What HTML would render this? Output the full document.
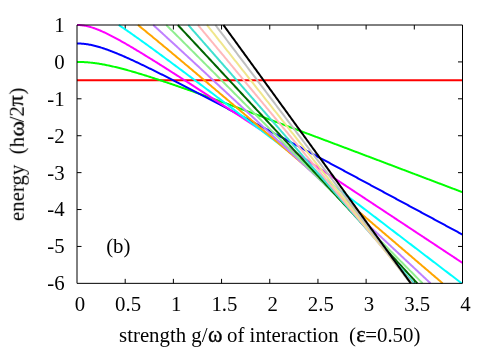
<!DOCTYPE html>
<html><head><meta charset="utf-8"><title>plot</title>
<style>
html,body{margin:0;padding:0;background:#fff;}
body{width:500px;height:350px;overflow:hidden;}
svg{display:block;}
text.gk{stroke:#000;stroke-width:0.3px;}
text{font-family:"Liberation Serif",serif;font-size:20.83px;fill:#000;}
</style></head><body>
<svg width="500" height="350" viewBox="0 0 500 350">
<rect width="500" height="350" fill="#fff"/>
<path d="M125.19 283.35 v-4.5 M125.19 25.00 v4.5 M173.38 283.35 v-4.5 M173.38 25.00 v4.5 M221.56 283.35 v-4.5 M221.56 25.00 v4.5 M269.75 283.35 v-4.5 M269.75 25.00 v4.5 M317.94 283.35 v-4.5 M317.94 25.00 v4.5 M366.12 283.35 v-4.5 M366.12 25.00 v4.5 M414.31 283.35 v-4.5 M414.31 25.00 v4.5 M77.00 61.91 h4.5 M462.50 61.91 h-4.5 M77.00 98.81 h4.5 M462.50 98.81 h-4.5 M77.00 135.72 h4.5 M462.50 135.72 h-4.5 M77.00 172.63 h4.5 M462.50 172.63 h-4.5 M77.00 209.54 h4.5 M462.50 209.54 h-4.5 M77.00 246.44 h4.5 M462.50 246.44 h-4.5" fill="none" stroke="#000" stroke-width="1"/>
<g fill="none" stroke-width="2.00" stroke-linejoin="round">
<path d="M77.00 80.36 L77.96 80.36 L78.93 80.36 L79.89 80.36 L80.86 80.36 L81.82 80.36 L82.78 80.36 L83.75 80.36 L84.71 80.36 L85.67 80.36 L86.64 80.36 L87.60 80.36 L88.56 80.36 L89.53 80.36 L90.49 80.36 L91.46 80.36 L92.42 80.36 L93.38 80.36 L94.35 80.36 L95.31 80.36 L96.28 80.36 L97.24 80.36 L98.20 80.36 L99.17 80.36 L100.13 80.36 L101.09 80.36 L102.06 80.36 L103.02 80.36 L103.98 80.36 L104.95 80.36 L105.91 80.36 L106.88 80.36 L107.84 80.36 L108.80 80.36 L109.77 80.36 L110.73 80.36 L111.69 80.36 L112.66 80.36 L113.62 80.36 L114.59 80.36 L115.55 80.36 L116.51 80.36 L117.48 80.36 L118.44 80.36 L119.41 80.36 L120.37 80.36 L121.33 80.36 L122.30 80.36 L123.26 80.36 L124.22 80.36 L125.19 80.36 L126.15 80.36 L127.12 80.36 L128.08 80.36 L129.04 80.36 L130.01 80.36 L130.97 80.36 L131.93 80.36 L132.90 80.36 L133.86 80.36 L134.82 80.36 L135.79 80.36 L136.75 80.36 L137.72 80.36 L138.68 80.36 L139.64 80.36 L140.61 80.36 L141.57 80.36 L142.54 80.36 L143.50 80.36 L144.46 80.36 L145.43 80.36 L146.39 80.36 L147.35 80.36 L148.32 80.36 L149.28 80.36 L150.25 80.36 L151.21 80.36 L152.17 80.36 L153.14 80.36 L154.10 80.36 L155.06 80.36 L156.03 80.36 L156.99 80.36 L157.95 80.36 L158.92 80.36 L159.88 80.36 L160.85 80.36 L161.81 80.36 L162.77 80.36 L163.74 80.36 L164.70 80.36 L165.67 80.36 L166.63 80.36 L167.59 80.36 L168.56 80.36 L169.52 80.36 L170.48 80.36 L171.45 80.36 L172.41 80.36 L173.38 80.36 L174.34 80.36 L175.30 80.36 L176.27 80.36 L177.23 80.36 L178.19 80.36 L179.16 80.36 L180.12 80.36 L181.09 80.36 L182.05 80.36 L183.01 80.36 L183.98 80.36 L184.94 80.36 L185.90 80.36 L186.87 80.36 L187.83 80.36 L188.79 80.36 L189.76 80.36 L190.72 80.36 L191.69 80.36 L192.65 80.36 L193.61 80.36 L194.58 80.36 L195.54 80.36 L196.50 80.36 L197.47 80.36 L198.43 80.36 L199.40 80.36 L200.36 80.36 L201.32 80.36 L202.29 80.36 L203.25 80.36 L204.22 80.36 L205.18 80.36 L206.14 80.36 L207.11 80.36 L208.07 80.36 L209.03 80.36 L210.00 80.36 L210.96 80.36 L211.92 80.36 L212.89 80.36 L213.85 80.36 L214.82 80.36 L215.78 80.36 L216.74 80.36 L217.71 80.36 L218.67 80.36 L219.63 80.36 L220.60 80.36 L221.56 80.36 L222.53 80.36 L223.49 80.36 L224.45 80.36 L225.42 80.36 L226.38 80.36 L227.34 80.36 L228.31 80.36 L229.27 80.36 L230.24 80.36 L231.20 80.36 L232.16 80.36 L233.13 80.36 L234.09 80.36 L235.05 80.36 L236.02 80.36 L236.98 80.36 L237.95 80.36 L238.91 80.36 L239.87 80.36 L240.84 80.36 L241.80 80.36 L242.76 80.36 L243.73 80.36 L244.69 80.36 L245.66 80.36 L246.62 80.36 L247.58 80.36 L248.55 80.36 L249.51 80.36 L250.47 80.36 L251.44 80.36 L252.40 80.36 L253.37 80.36 L254.33 80.36 L255.29 80.36 L256.26 80.36 L257.22 80.36 L258.19 80.36 L259.15 80.36 L260.11 80.36 L261.08 80.36 L262.04 80.36 L263.00 80.36 L263.97 80.36 L264.93 80.36 L265.89 80.36 L266.86 80.36 L267.82 80.36 L268.79 80.36 L269.75 80.36 L270.71 80.36 L271.68 80.36 L272.64 80.36 L273.61 80.36 L274.57 80.36 L275.53 80.36 L276.50 80.36 L277.46 80.36 L278.42 80.36 L279.39 80.36 L280.35 80.36 L281.31 80.36 L282.28 80.36 L283.24 80.36 L284.21 80.36 L285.17 80.36 L286.13 80.36 L287.10 80.36 L288.06 80.36 L289.02 80.36 L289.99 80.36 L290.95 80.36 L291.92 80.36 L292.88 80.36 L293.84 80.36 L294.81 80.36 L295.77 80.36 L296.74 80.36 L297.70 80.36 L298.66 80.36 L299.63 80.36 L300.59 80.36 L301.55 80.36 L302.52 80.36 L303.48 80.36 L304.44 80.36 L305.41 80.36 L306.37 80.36 L307.34 80.36 L308.30 80.36 L309.26 80.36 L310.23 80.36 L311.19 80.36 L312.15 80.36 L313.12 80.36 L314.08 80.36 L315.05 80.36 L316.01 80.36 L316.97 80.36 L317.94 80.36 L318.90 80.36 L319.87 80.36 L320.83 80.36 L321.79 80.36 L322.76 80.36 L323.72 80.36 L324.68 80.36 L325.65 80.36 L326.61 80.36 L327.58 80.36 L328.54 80.36 L329.50 80.36 L330.47 80.36 L331.43 80.36 L332.39 80.36 L333.36 80.36 L334.32 80.36 L335.29 80.36 L336.25 80.36 L337.21 80.36 L338.18 80.36 L339.14 80.36 L340.10 80.36 L341.07 80.36 L342.03 80.36 L343.00 80.36 L343.96 80.36 L344.92 80.36 L345.89 80.36 L346.85 80.36 L347.81 80.36 L348.78 80.36 L349.74 80.36 L350.70 80.36 L351.67 80.36 L352.63 80.36 L353.60 80.36 L354.56 80.36 L355.52 80.36 L356.49 80.36 L357.45 80.36 L358.42 80.36 L359.38 80.36 L360.34 80.36 L361.31 80.36 L362.27 80.36 L363.23 80.36 L364.20 80.36 L365.16 80.36 L366.12 80.36 L367.09 80.36 L368.05 80.36 L369.02 80.36 L369.98 80.36 L370.94 80.36 L371.91 80.36 L372.87 80.36 L373.83 80.36 L374.80 80.36 L375.76 80.36 L376.73 80.36 L377.69 80.36 L378.65 80.36 L379.62 80.36 L380.58 80.36 L381.55 80.36 L382.51 80.36 L383.47 80.36 L384.44 80.36 L385.40 80.36 L386.36 80.36 L387.33 80.36 L388.29 80.36 L389.25 80.36 L390.22 80.36 L391.18 80.36 L392.15 80.36 L393.11 80.36 L394.07 80.36 L395.04 80.36 L396.00 80.36 L396.96 80.36 L397.93 80.36 L398.89 80.36 L399.86 80.36 L400.82 80.36 L401.78 80.36 L402.75 80.36 L403.71 80.36 L404.68 80.36 L405.64 80.36 L406.60 80.36 L407.57 80.36 L408.53 80.36 L409.49 80.36 L410.46 80.36 L411.42 80.36 L412.38 80.36 L413.35 80.36 L414.31 80.36 L415.28 80.36 L416.24 80.36 L417.20 80.36 L418.17 80.36 L419.13 80.36 L420.10 80.36 L421.06 80.36 L422.02 80.36 L422.99 80.36 L423.95 80.36 L424.91 80.36 L425.88 80.36 L426.84 80.36 L427.81 80.36 L428.77 80.36 L429.73 80.36 L430.70 80.36 L431.66 80.36 L432.62 80.36 L433.59 80.36 L434.55 80.36 L435.52 80.36 L436.48 80.36 L437.44 80.36 L438.41 80.36 L439.37 80.36 L440.33 80.36 L441.30 80.36 L442.26 80.36 L443.22 80.36 L444.19 80.36 L445.15 80.36 L446.12 80.36 L447.08 80.36 L448.04 80.36 L449.01 80.36 L449.97 80.36 L450.94 80.36 L451.90 80.36 L452.86 80.36 L453.83 80.36 L454.79 80.36 L455.75 80.36 L456.72 80.36 L457.68 80.36 L458.64 80.36 L459.61 80.36 L460.57 80.36 L461.54 80.36 L462.50 80.36" stroke="#ff0000"/>
<path d="M77.00 61.91 L77.96 61.91 L78.93 61.92 L79.89 61.94 L80.86 61.97 L81.82 62.00 L82.78 62.04 L83.75 62.09 L84.71 62.14 L85.67 62.20 L86.64 62.27 L87.60 62.35 L88.56 62.43 L89.53 62.52 L90.49 62.62 L91.46 62.72 L92.42 62.83 L93.38 62.94 L94.35 63.07 L95.31 63.19 L96.28 63.33 L97.24 63.47 L98.20 63.61 L99.17 63.77 L100.13 63.92 L101.09 64.09 L102.06 64.25 L103.02 64.43 L103.98 64.60 L104.95 64.79 L105.91 64.97 L106.88 65.17 L107.84 65.36 L108.80 65.56 L109.77 65.77 L110.73 65.98 L111.69 66.19 L112.66 66.41 L113.62 66.63 L114.59 66.86 L115.55 67.09 L116.51 67.32 L117.48 67.55 L118.44 67.79 L119.41 68.03 L120.37 68.28 L121.33 68.53 L122.30 68.78 L123.26 69.03 L124.22 69.29 L125.19 69.55 L126.15 69.81 L127.12 70.08 L128.08 70.35 L129.04 70.61 L130.01 70.89 L130.97 71.16 L131.93 71.44 L132.90 71.72 L133.86 72.00 L134.82 72.28 L135.79 72.56 L136.75 72.85 L137.72 73.14 L138.68 73.43 L139.64 73.72 L140.61 74.01 L141.57 74.31 L142.54 74.60 L143.50 74.90 L144.46 75.20 L145.43 75.50 L146.39 75.81 L147.35 76.11 L148.32 76.41 L149.28 76.72 L150.25 77.03 L151.21 77.34 L152.17 77.65 L153.14 77.96 L154.10 78.27 L155.06 78.59 L156.03 78.90 L156.99 79.22 L157.95 79.53 L158.92 79.85 L159.88 80.17 L160.85 80.49 L161.81 80.81 L162.77 81.13 L163.74 81.45 L164.70 81.77 L165.67 82.10 L166.63 82.42 L167.59 82.75 L168.56 83.08 L169.52 83.40 L170.48 83.73 L171.45 84.06 L172.41 84.39 L173.38 84.72 L174.34 85.05 L175.30 85.38 L176.27 85.71 L177.23 86.04 L178.19 86.38 L179.16 86.71 L180.12 87.04 L181.09 87.38 L182.05 87.71 L183.01 88.05 L183.98 88.38 L184.94 88.72 L185.90 89.06 L186.87 89.40 L187.83 89.73 L188.79 90.07 L189.76 90.41 L190.72 90.75 L191.69 91.09 L192.65 91.43 L193.61 91.77 L194.58 92.12 L195.54 92.46 L196.50 92.80 L197.47 93.14 L198.43 93.48 L199.40 93.83 L200.36 94.17 L201.32 94.51 L202.29 94.86 L203.25 95.20 L204.22 95.55 L205.18 95.89 L206.14 96.24 L207.11 96.59 L208.07 96.93 L209.03 97.28 L210.00 97.63 L210.96 97.97 L211.92 98.32 L212.89 98.67 L213.85 99.02 L214.82 99.36 L215.78 99.71 L216.74 100.06 L217.71 100.41 L218.67 100.76 L219.63 101.11 L220.60 101.46 L221.56 101.81 L222.53 102.16 L223.49 102.51 L224.45 102.86 L225.42 103.21 L226.38 103.56 L227.34 103.91 L228.31 104.27 L229.27 104.62 L230.24 104.97 L231.20 105.32 L232.16 105.67 L233.13 106.03 L234.09 106.38 L235.05 106.73 L236.02 107.08 L236.98 107.44 L237.95 107.79 L238.91 108.15 L239.87 108.50 L240.84 108.85 L241.80 109.21 L242.76 109.56 L243.73 109.92 L244.69 110.27 L245.66 110.63 L246.62 110.98 L247.58 111.34 L248.55 111.69 L249.51 112.05 L250.47 112.40 L251.44 112.76 L252.40 113.11 L253.37 113.47 L254.33 113.83 L255.29 114.18 L256.26 114.54 L257.22 114.89 L258.19 115.25 L259.15 115.61 L260.11 115.96 L261.08 116.32 L262.04 116.68 L263.00 117.04 L263.97 117.39 L264.93 117.75 L265.89 118.11 L266.86 118.47 L267.82 118.82 L268.79 119.18 L269.75 119.54 L270.71 119.90 L271.68 120.26 L272.64 120.61 L273.61 120.97 L274.57 121.33 L275.53 121.69 L276.50 122.05 L277.46 122.41 L278.42 122.77 L279.39 123.13 L280.35 123.48 L281.31 123.84 L282.28 124.20 L283.24 124.56 L284.21 124.92 L285.17 125.28 L286.13 125.64 L287.10 126.00 L288.06 126.36 L289.02 126.72 L289.99 127.08 L290.95 127.44 L291.92 127.80 L292.88 128.16 L293.84 128.52 L294.81 128.88 L295.77 129.24 L296.74 129.60 L297.70 129.96 L298.66 130.32 L299.63 130.68 L300.59 131.04 L301.55 131.40 L302.52 131.77 L303.48 132.13 L304.44 132.49 L305.41 132.85 L306.37 133.21 L307.34 133.57 L308.30 133.93 L309.26 134.29 L310.23 134.66 L311.19 135.02 L312.15 135.38 L313.12 135.74 L314.08 136.10 L315.05 136.46 L316.01 136.82 L316.97 137.19 L317.94 137.55 L318.90 137.91 L319.87 138.27 L320.83 138.63 L321.79 139.00 L322.76 139.36 L323.72 139.72 L324.68 140.08 L325.65 140.45 L326.61 140.81 L327.58 141.17 L328.54 141.53 L329.50 141.90 L330.47 142.26 L331.43 142.62 L332.39 142.98 L333.36 143.35 L334.32 143.71 L335.29 144.07 L336.25 144.43 L337.21 144.80 L338.18 145.16 L339.14 145.52 L340.10 145.89 L341.07 146.25 L342.03 146.61 L343.00 146.98 L343.96 147.34 L344.92 147.70 L345.89 148.06 L346.85 148.43 L347.81 148.79 L348.78 149.16 L349.74 149.52 L350.70 149.88 L351.67 150.25 L352.63 150.61 L353.60 150.97 L354.56 151.34 L355.52 151.70 L356.49 152.06 L357.45 152.43 L358.42 152.79 L359.38 153.15 L360.34 153.52 L361.31 153.88 L362.27 154.25 L363.23 154.61 L364.20 154.97 L365.16 155.34 L366.12 155.70 L367.09 156.07 L368.05 156.43 L369.02 156.79 L369.98 157.16 L370.94 157.52 L371.91 157.89 L372.87 158.25 L373.83 158.62 L374.80 158.98 L375.76 159.34 L376.73 159.71 L377.69 160.07 L378.65 160.44 L379.62 160.80 L380.58 161.17 L381.55 161.53 L382.51 161.90 L383.47 162.26 L384.44 162.62 L385.40 162.99 L386.36 163.35 L387.33 163.72 L388.29 164.08 L389.25 164.45 L390.22 164.81 L391.18 165.18 L392.15 165.54 L393.11 165.91 L394.07 166.27 L395.04 166.64 L396.00 167.00 L396.96 167.37 L397.93 167.73 L398.89 168.10 L399.86 168.46 L400.82 168.83 L401.78 169.19 L402.75 169.56 L403.71 169.92 L404.68 170.29 L405.64 170.65 L406.60 171.02 L407.57 171.38 L408.53 171.75 L409.49 172.11 L410.46 172.48 L411.42 172.84 L412.38 173.21 L413.35 173.57 L414.31 173.94 L415.28 174.31 L416.24 174.67 L417.20 175.04 L418.17 175.40 L419.13 175.77 L420.10 176.13 L421.06 176.50 L422.02 176.86 L422.99 177.23 L423.95 177.59 L424.91 177.96 L425.88 178.33 L426.84 178.69 L427.81 179.06 L428.77 179.42 L429.73 179.79 L430.70 180.15 L431.66 180.52 L432.62 180.89 L433.59 181.25 L434.55 181.62 L435.52 181.98 L436.48 182.35 L437.44 182.71 L438.41 183.08 L439.37 183.45 L440.33 183.81 L441.30 184.18 L442.26 184.54 L443.22 184.91 L444.19 185.28 L445.15 185.64 L446.12 186.01 L447.08 186.37 L448.04 186.74 L449.01 187.11 L449.97 187.47 L450.94 187.84 L451.90 188.20 L452.86 188.57 L453.83 188.94 L454.79 189.30 L455.75 189.67 L456.72 190.03 L457.68 190.40 L458.64 190.77 L459.61 191.13 L460.57 191.50 L461.54 191.86 L462.50 192.23" stroke="#00ff00"/>
<path d="M77.00 43.45 L77.96 43.46 L78.93 43.48 L79.89 43.52 L80.86 43.57 L81.82 43.64 L82.78 43.72 L83.75 43.81 L84.71 43.92 L85.67 44.04 L86.64 44.18 L87.60 44.33 L88.56 44.49 L89.53 44.66 L90.49 44.85 L91.46 45.05 L92.42 45.26 L93.38 45.48 L94.35 45.71 L95.31 45.95 L96.28 46.20 L97.24 46.46 L98.20 46.73 L99.17 47.01 L100.13 47.30 L101.09 47.60 L102.06 47.91 L103.02 48.22 L103.98 48.54 L104.95 48.87 L105.91 49.20 L106.88 49.54 L107.84 49.89 L108.80 50.24 L109.77 50.60 L110.73 50.97 L111.69 51.34 L112.66 51.71 L113.62 52.09 L114.59 52.48 L115.55 52.86 L116.51 53.26 L117.48 53.65 L118.44 54.06 L119.41 54.46 L120.37 54.87 L121.33 55.28 L122.30 55.70 L123.26 56.12 L124.22 56.54 L125.19 56.96 L126.15 57.39 L127.12 57.82 L128.08 58.25 L129.04 58.69 L130.01 59.13 L130.97 59.57 L131.93 60.01 L132.90 60.45 L133.86 60.90 L134.82 61.35 L135.79 61.80 L136.75 62.25 L137.72 62.71 L138.68 63.16 L139.64 63.62 L140.61 64.08 L141.57 64.54 L142.54 65.00 L143.50 65.47 L144.46 65.93 L145.43 66.40 L146.39 66.87 L147.35 67.34 L148.32 67.81 L149.28 68.28 L150.25 68.75 L151.21 69.22 L152.17 69.70 L153.14 70.17 L154.10 70.65 L155.06 71.13 L156.03 71.61 L156.99 72.09 L157.95 72.57 L158.92 73.05 L159.88 73.53 L160.85 74.02 L161.81 74.50 L162.77 74.98 L163.74 75.47 L164.70 75.96 L165.67 76.44 L166.63 76.93 L167.59 77.42 L168.56 77.91 L169.52 78.40 L170.48 78.89 L171.45 79.38 L172.41 79.87 L173.38 80.36 L174.34 80.85 L175.30 81.35 L176.27 81.84 L177.23 82.33 L178.19 82.83 L179.16 83.32 L180.12 83.82 L181.09 84.31 L182.05 84.81 L183.01 85.31 L183.98 85.80 L184.94 86.30 L185.90 86.80 L186.87 87.30 L187.83 87.80 L188.79 88.30 L189.76 88.79 L190.72 89.29 L191.69 89.79 L192.65 90.30 L193.61 90.80 L194.58 91.30 L195.54 91.80 L196.50 92.30 L197.47 92.80 L198.43 93.31 L199.40 93.81 L200.36 94.31 L201.32 94.81 L202.29 95.32 L203.25 95.82 L204.22 96.33 L205.18 96.83 L206.14 97.33 L207.11 97.84 L208.07 98.34 L209.03 98.85 L210.00 99.35 L210.96 99.86 L211.92 100.37 L212.89 100.87 L213.85 101.38 L214.82 101.89 L215.78 102.39 L216.74 102.90 L217.71 103.41 L218.67 103.91 L219.63 104.42 L220.60 104.93 L221.56 105.44 L222.53 105.95 L223.49 106.45 L224.45 106.96 L225.42 107.47 L226.38 107.98 L227.34 108.49 L228.31 109.00 L229.27 109.51 L230.24 110.02 L231.20 110.53 L232.16 111.04 L233.13 111.55 L234.09 112.06 L235.05 112.57 L236.02 113.08 L236.98 113.59 L237.95 114.10 L238.91 114.61 L239.87 115.12 L240.84 115.63 L241.80 116.14 L242.76 116.65 L243.73 117.16 L244.69 117.67 L245.66 118.19 L246.62 118.70 L247.58 119.21 L248.55 119.72 L249.51 120.23 L250.47 120.75 L251.44 121.26 L252.40 121.77 L253.37 122.28 L254.33 122.79 L255.29 123.31 L256.26 123.82 L257.22 124.33 L258.19 124.85 L259.15 125.36 L260.11 125.87 L261.08 126.39 L262.04 126.90 L263.00 127.41 L263.97 127.93 L264.93 128.44 L265.89 128.95 L266.86 129.47 L267.82 129.98 L268.79 130.49 L269.75 131.01 L270.71 131.52 L271.68 132.04 L272.64 132.55 L273.61 133.06 L274.57 133.58 L275.53 134.09 L276.50 134.61 L277.46 135.12 L278.42 135.64 L279.39 136.15 L280.35 136.67 L281.31 137.18 L282.28 137.70 L283.24 138.21 L284.21 138.73 L285.17 139.24 L286.13 139.76 L287.10 140.27 L288.06 140.79 L289.02 141.30 L289.99 141.82 L290.95 142.33 L291.92 142.85 L292.88 143.36 L293.84 143.88 L294.81 144.39 L295.77 144.91 L296.74 145.43 L297.70 145.94 L298.66 146.46 L299.63 146.97 L300.59 147.49 L301.55 148.01 L302.52 148.52 L303.48 149.04 L304.44 149.55 L305.41 150.07 L306.37 150.59 L307.34 151.10 L308.30 151.62 L309.26 152.14 L310.23 152.65 L311.19 153.17 L312.15 153.68 L313.12 154.20 L314.08 154.72 L315.05 155.23 L316.01 155.75 L316.97 156.27 L317.94 156.78 L318.90 157.30 L319.87 157.82 L320.83 158.34 L321.79 158.85 L322.76 159.37 L323.72 159.89 L324.68 160.40 L325.65 160.92 L326.61 161.44 L327.58 161.95 L328.54 162.47 L329.50 162.99 L330.47 163.51 L331.43 164.02 L332.39 164.54 L333.36 165.06 L334.32 165.58 L335.29 166.09 L336.25 166.61 L337.21 167.13 L338.18 167.65 L339.14 168.16 L340.10 168.68 L341.07 169.20 L342.03 169.72 L343.00 170.23 L343.96 170.75 L344.92 171.27 L345.89 171.79 L346.85 172.31 L347.81 172.82 L348.78 173.34 L349.74 173.86 L350.70 174.38 L351.67 174.89 L352.63 175.41 L353.60 175.93 L354.56 176.45 L355.52 176.97 L356.49 177.49 L357.45 178.00 L358.42 178.52 L359.38 179.04 L360.34 179.56 L361.31 180.08 L362.27 180.59 L363.23 181.11 L364.20 181.63 L365.16 182.15 L366.12 182.67 L367.09 183.19 L368.05 183.70 L369.02 184.22 L369.98 184.74 L370.94 185.26 L371.91 185.78 L372.87 186.30 L373.83 186.81 L374.80 187.33 L375.76 187.85 L376.73 188.37 L377.69 188.89 L378.65 189.41 L379.62 189.93 L380.58 190.45 L381.55 190.96 L382.51 191.48 L383.47 192.00 L384.44 192.52 L385.40 193.04 L386.36 193.56 L387.33 194.08 L388.29 194.60 L389.25 195.11 L390.22 195.63 L391.18 196.15 L392.15 196.67 L393.11 197.19 L394.07 197.71 L395.04 198.23 L396.00 198.75 L396.96 199.27 L397.93 199.78 L398.89 200.30 L399.86 200.82 L400.82 201.34 L401.78 201.86 L402.75 202.38 L403.71 202.90 L404.68 203.42 L405.64 203.94 L406.60 204.46 L407.57 204.98 L408.53 205.50 L409.49 206.01 L410.46 206.53 L411.42 207.05 L412.38 207.57 L413.35 208.09 L414.31 208.61 L415.28 209.13 L416.24 209.65 L417.20 210.17 L418.17 210.69 L419.13 211.21 L420.10 211.73 L421.06 212.25 L422.02 212.77 L422.99 213.29 L423.95 213.80 L424.91 214.32 L425.88 214.84 L426.84 215.36 L427.81 215.88 L428.77 216.40 L429.73 216.92 L430.70 217.44 L431.66 217.96 L432.62 218.48 L433.59 219.00 L434.55 219.52 L435.52 220.04 L436.48 220.56 L437.44 221.08 L438.41 221.60 L439.37 222.12 L440.33 222.64 L441.30 223.16 L442.26 223.68 L443.22 224.20 L444.19 224.72 L445.15 225.24 L446.12 225.76 L447.08 226.27 L448.04 226.79 L449.01 227.31 L449.97 227.83 L450.94 228.35 L451.90 228.87 L452.86 229.39 L453.83 229.91 L454.79 230.43 L455.75 230.95 L456.72 231.47 L457.68 231.99 L458.64 232.51 L459.61 233.03 L460.57 233.55 L461.54 234.07 L462.50 234.59" stroke="#0000ff"/>
<path d="M77.00 25.00 L77.96 25.01 L78.93 25.04 L79.89 25.10 L80.86 25.18 L81.82 25.27 L82.78 25.39 L83.75 25.53 L84.71 25.70 L85.67 25.88 L86.64 26.08 L87.60 26.29 L88.56 26.53 L89.53 26.78 L90.49 27.06 L91.46 27.34 L92.42 27.64 L93.38 27.96 L94.35 28.29 L95.31 28.64 L96.28 29.00 L97.24 29.37 L98.20 29.75 L99.17 30.14 L100.13 30.54 L101.09 30.96 L102.06 31.38 L103.02 31.81 L103.98 32.25 L104.95 32.70 L105.91 33.16 L106.88 33.62 L107.84 34.10 L108.80 34.57 L109.77 35.06 L110.73 35.55 L111.69 36.04 L112.66 36.55 L113.62 37.05 L114.59 37.56 L115.55 38.08 L116.51 38.60 L117.48 39.13 L118.44 39.65 L119.41 40.19 L120.37 40.72 L121.33 41.26 L122.30 41.81 L123.26 42.35 L124.22 42.90 L125.19 43.45 L126.15 44.01 L127.12 44.57 L128.08 45.13 L129.04 45.69 L130.01 46.25 L130.97 46.82 L131.93 47.39 L132.90 47.96 L133.86 48.53 L134.82 49.11 L135.79 49.69 L136.75 50.27 L137.72 50.85 L138.68 51.43 L139.64 52.01 L140.61 52.60 L141.57 53.18 L142.54 53.77 L143.50 54.36 L144.46 54.95 L145.43 55.54 L146.39 56.13 L147.35 56.73 L148.32 57.32 L149.28 57.92 L150.25 58.52 L151.21 59.11 L152.17 59.71 L153.14 60.31 L154.10 60.91 L155.06 61.52 L156.03 62.12 L156.99 62.72 L157.95 63.33 L158.92 63.93 L159.88 64.54 L160.85 65.14 L161.81 65.75 L162.77 66.36 L163.74 66.97 L164.70 67.58 L165.67 68.18 L166.63 68.79 L167.59 69.41 L168.56 70.02 L169.52 70.63 L170.48 71.24 L171.45 71.85 L172.41 72.47 L173.38 73.08 L174.34 73.70 L175.30 74.31 L176.27 74.93 L177.23 75.54 L178.19 76.16 L179.16 76.77 L180.12 77.39 L181.09 78.01 L182.05 78.63 L183.01 79.25 L183.98 79.86 L184.94 80.48 L185.90 81.10 L186.87 81.72 L187.83 82.34 L188.79 82.96 L189.76 83.58 L190.72 84.20 L191.69 84.82 L192.65 85.44 L193.61 86.07 L194.58 86.69 L195.54 87.31 L196.50 87.93 L197.47 88.56 L198.43 89.18 L199.40 89.80 L200.36 90.43 L201.32 91.05 L202.29 91.67 L203.25 92.30 L204.22 92.92 L205.18 93.55 L206.14 94.17 L207.11 94.80 L208.07 95.42 L209.03 96.05 L210.00 96.67 L210.96 97.30 L211.92 97.92 L212.89 98.55 L213.85 99.18 L214.82 99.80 L215.78 100.43 L216.74 101.06 L217.71 101.68 L218.67 102.31 L219.63 102.94 L220.60 103.57 L221.56 104.19 L222.53 104.82 L223.49 105.45 L224.45 106.08 L225.42 106.71 L226.38 107.33 L227.34 107.96 L228.31 108.59 L229.27 109.22 L230.24 109.85 L231.20 110.48 L232.16 111.11 L233.13 111.74 L234.09 112.37 L235.05 113.00 L236.02 113.62 L236.98 114.25 L237.95 114.88 L238.91 115.51 L239.87 116.14 L240.84 116.77 L241.80 117.40 L242.76 118.04 L243.73 118.67 L244.69 119.30 L245.66 119.93 L246.62 120.56 L247.58 121.19 L248.55 121.82 L249.51 122.45 L250.47 123.08 L251.44 123.71 L252.40 124.34 L253.37 124.98 L254.33 125.61 L255.29 126.24 L256.26 126.87 L257.22 127.50 L258.19 128.13 L259.15 128.77 L260.11 129.40 L261.08 130.03 L262.04 130.66 L263.00 131.29 L263.97 131.93 L264.93 132.56 L265.89 133.19 L266.86 133.82 L267.82 134.46 L268.79 135.09 L269.75 135.72 L270.71 136.35 L271.68 136.99 L272.64 137.62 L273.61 138.25 L274.57 138.89 L275.53 139.52 L276.50 140.15 L277.46 140.78 L278.42 141.42 L279.39 142.05 L280.35 142.68 L281.31 143.32 L282.28 143.95 L283.24 144.59 L284.21 145.22 L285.17 145.85 L286.13 146.49 L287.10 147.12 L288.06 147.75 L289.02 148.39 L289.99 149.02 L290.95 149.65 L291.92 150.29 L292.88 150.92 L293.84 151.56 L294.81 152.19 L295.77 152.82 L296.74 153.46 L297.70 154.09 L298.66 154.73 L299.63 155.36 L300.59 156.00 L301.55 156.63 L302.52 157.27 L303.48 157.90 L304.44 158.53 L305.41 159.17 L306.37 159.80 L307.34 160.44 L308.30 161.07 L309.26 161.71 L310.23 162.34 L311.19 162.98 L312.15 163.61 L313.12 164.25 L314.08 164.88 L315.05 165.52 L316.01 166.15 L316.97 166.79 L317.94 167.42 L318.90 168.06 L319.87 168.69 L320.83 169.33 L321.79 169.96 L322.76 170.60 L323.72 171.23 L324.68 171.87 L325.65 172.50 L326.61 173.14 L327.58 173.77 L328.54 174.41 L329.50 175.04 L330.47 175.68 L331.43 176.31 L332.39 176.95 L333.36 177.59 L334.32 178.22 L335.29 178.86 L336.25 179.49 L337.21 180.13 L338.18 180.76 L339.14 181.40 L340.10 182.03 L341.07 182.67 L342.03 183.31 L343.00 183.94 L343.96 184.58 L344.92 185.21 L345.89 185.85 L346.85 186.49 L347.81 187.12 L348.78 187.76 L349.74 188.39 L350.70 189.03 L351.67 189.67 L352.63 190.30 L353.60 190.94 L354.56 191.57 L355.52 192.21 L356.49 192.85 L357.45 193.48 L358.42 194.12 L359.38 194.75 L360.34 195.39 L361.31 196.03 L362.27 196.66 L363.23 197.30 L364.20 197.93 L365.16 198.57 L366.12 199.21 L367.09 199.84 L368.05 200.48 L369.02 201.12 L369.98 201.75 L370.94 202.39 L371.91 203.03 L372.87 203.66 L373.83 204.30 L374.80 204.93 L375.76 205.57 L376.73 206.21 L377.69 206.84 L378.65 207.48 L379.62 208.12 L380.58 208.75 L381.55 209.39 L382.51 210.03 L383.47 210.66 L384.44 211.30 L385.40 211.94 L386.36 212.57 L387.33 213.21 L388.29 213.85 L389.25 214.48 L390.22 215.12 L391.18 215.76 L392.15 216.39 L393.11 217.03 L394.07 217.67 L395.04 218.30 L396.00 218.94 L396.96 219.58 L397.93 220.22 L398.89 220.85 L399.86 221.49 L400.82 222.13 L401.78 222.76 L402.75 223.40 L403.71 224.04 L404.68 224.67 L405.64 225.31 L406.60 225.95 L407.57 226.58 L408.53 227.22 L409.49 227.86 L410.46 228.50 L411.42 229.13 L412.38 229.77 L413.35 230.41 L414.31 231.04 L415.28 231.68 L416.24 232.32 L417.20 232.96 L418.17 233.59 L419.13 234.23 L420.10 234.87 L421.06 235.50 L422.02 236.14 L422.99 236.78 L423.95 237.42 L424.91 238.05 L425.88 238.69 L426.84 239.33 L427.81 239.96 L428.77 240.60 L429.73 241.24 L430.70 241.88 L431.66 242.51 L432.62 243.15 L433.59 243.79 L434.55 244.43 L435.52 245.06 L436.48 245.70 L437.44 246.34 L438.41 246.97 L439.37 247.61 L440.33 248.25 L441.30 248.89 L442.26 249.52 L443.22 250.16 L444.19 250.80 L445.15 251.44 L446.12 252.07 L447.08 252.71 L448.04 253.35 L449.01 253.99 L449.97 254.62 L450.94 255.26 L451.90 255.90 L452.86 256.54 L453.83 257.17 L454.79 257.81 L455.75 258.45 L456.72 259.09 L457.68 259.72 L458.64 260.36 L459.61 261.00 L460.57 261.64 L461.54 262.27 L462.50 262.91" stroke="#ff00ff"/>
<path d="M118.73 25.00 L119.41 25.45 L120.37 26.09 L121.33 26.74 L122.30 27.39 L123.26 28.04 L124.22 28.70 L125.19 29.36 L126.15 30.02 L127.12 30.68 L128.08 31.35 L129.04 32.02 L130.01 32.69 L130.97 33.36 L131.93 34.04 L132.90 34.71 L133.86 35.39 L134.82 36.07 L135.79 36.75 L136.75 37.44 L137.72 38.12 L138.68 38.81 L139.64 39.50 L140.61 40.19 L141.57 40.88 L142.54 41.57 L143.50 42.26 L144.46 42.96 L145.43 43.65 L146.39 44.35 L147.35 45.05 L148.32 45.75 L149.28 46.45 L150.25 47.15 L151.21 47.85 L152.17 48.55 L153.14 49.26 L154.10 49.96 L155.06 50.67 L156.03 51.37 L156.99 52.08 L157.95 52.78 L158.92 53.49 L159.88 54.20 L160.85 54.91 L161.81 55.62 L162.77 56.33 L163.74 57.04 L164.70 57.75 L165.67 58.46 L166.63 59.18 L167.59 59.89 L168.56 60.60 L169.52 61.32 L170.48 62.03 L171.45 62.75 L172.41 63.46 L173.38 64.18 L174.34 64.90 L175.30 65.61 L176.27 66.33 L177.23 67.05 L178.19 67.76 L179.16 68.48 L180.12 69.20 L181.09 69.92 L182.05 70.64 L183.01 71.36 L183.98 72.08 L184.94 72.80 L185.90 73.52 L186.87 74.24 L187.83 74.96 L188.79 75.68 L189.76 76.41 L190.72 77.13 L191.69 77.85 L192.65 78.57 L193.61 79.29 L194.58 80.02 L195.54 80.74 L196.50 81.46 L197.47 82.19 L198.43 82.91 L199.40 83.64 L200.36 84.36 L201.32 85.08 L202.29 85.81 L203.25 86.53 L204.22 87.26 L205.18 87.99 L206.14 88.71 L207.11 89.44 L208.07 90.16 L209.03 90.89 L210.00 91.61 L210.96 92.34 L211.92 93.07 L212.89 93.79 L213.85 94.52 L214.82 95.25 L215.78 95.98 L216.74 96.70 L217.71 97.43 L218.67 98.16 L219.63 98.89 L220.60 99.61 L221.56 100.34 L222.53 101.07 L223.49 101.80 L224.45 102.53 L225.42 103.25 L226.38 103.98 L227.34 104.71 L228.31 105.44 L229.27 106.17 L230.24 106.90 L231.20 107.63 L232.16 108.36 L233.13 109.09 L234.09 109.82 L235.05 110.55 L236.02 111.28 L236.98 112.01 L237.95 112.74 L238.91 113.47 L239.87 114.20 L240.84 114.93 L241.80 115.66 L242.76 116.39 L243.73 117.12 L244.69 117.85 L245.66 118.58 L246.62 119.31 L247.58 120.04 L248.55 120.77 L249.51 121.50 L250.47 122.23 L251.44 122.97 L252.40 123.70 L253.37 124.43 L254.33 125.16 L255.29 125.89 L256.26 126.62 L257.22 127.35 L258.19 128.09 L259.15 128.82 L260.11 129.55 L261.08 130.28 L262.04 131.01 L263.00 131.74 L263.97 132.48 L264.93 133.21 L265.89 133.94 L266.86 134.67 L267.82 135.41 L268.79 136.14 L269.75 136.87 L270.71 137.60 L271.68 138.34 L272.64 139.07 L273.61 139.80 L274.57 140.53 L275.53 141.27 L276.50 142.00 L277.46 142.73 L278.42 143.46 L279.39 144.20 L280.35 144.93 L281.31 145.66 L282.28 146.40 L283.24 147.13 L284.21 147.86 L285.17 148.60 L286.13 149.33 L287.10 150.06 L288.06 150.80 L289.02 151.53 L289.99 152.26 L290.95 153.00 L291.92 153.73 L292.88 154.46 L293.84 155.20 L294.81 155.93 L295.77 156.66 L296.74 157.40 L297.70 158.13 L298.66 158.87 L299.63 159.60 L300.59 160.33 L301.55 161.07 L302.52 161.80 L303.48 162.54 L304.44 163.27 L305.41 164.00 L306.37 164.74 L307.34 165.47 L308.30 166.21 L309.26 166.94 L310.23 167.67 L311.19 168.41 L312.15 169.14 L313.12 169.88 L314.08 170.61 L315.05 171.35 L316.01 172.08 L316.97 172.81 L317.94 173.55 L318.90 174.28 L319.87 175.02 L320.83 175.75 L321.79 176.49 L322.76 177.22 L323.72 177.96 L324.68 178.69 L325.65 179.43 L326.61 180.16 L327.58 180.90 L328.54 181.63 L329.50 182.36 L330.47 183.10 L331.43 183.83 L332.39 184.57 L333.36 185.30 L334.32 186.04 L335.29 186.77 L336.25 187.51 L337.21 188.24 L338.18 188.98 L339.14 189.71 L340.10 190.45 L341.07 191.18 L342.03 191.92 L343.00 192.65 L343.96 193.39 L344.92 194.12 L345.89 194.86 L346.85 195.60 L347.81 196.33 L348.78 197.07 L349.74 197.80 L350.70 198.54 L351.67 199.27 L352.63 200.01 L353.60 200.74 L354.56 201.48 L355.52 202.21 L356.49 202.95 L357.45 203.68 L358.42 204.42 L359.38 205.15 L360.34 205.89 L361.31 206.63 L362.27 207.36 L363.23 208.10 L364.20 208.83 L365.16 209.57 L366.12 210.30 L367.09 211.04 L368.05 211.77 L369.02 212.51 L369.98 213.25 L370.94 213.98 L371.91 214.72 L372.87 215.45 L373.83 216.19 L374.80 216.92 L375.76 217.66 L376.73 218.40 L377.69 219.13 L378.65 219.87 L379.62 220.60 L380.58 221.34 L381.55 222.07 L382.51 222.81 L383.47 223.55 L384.44 224.28 L385.40 225.02 L386.36 225.75 L387.33 226.49 L388.29 227.23 L389.25 227.96 L390.22 228.70 L391.18 229.43 L392.15 230.17 L393.11 230.91 L394.07 231.64 L395.04 232.38 L396.00 233.11 L396.96 233.85 L397.93 234.59 L398.89 235.32 L399.86 236.06 L400.82 236.79 L401.78 237.53 L402.75 238.27 L403.71 239.00 L404.68 239.74 L405.64 240.48 L406.60 241.21 L407.57 241.95 L408.53 242.68 L409.49 243.42 L410.46 244.16 L411.42 244.89 L412.38 245.63 L413.35 246.36 L414.31 247.10 L415.28 247.84 L416.24 248.57 L417.20 249.31 L418.17 250.05 L419.13 250.78 L420.10 251.52 L421.06 252.26 L422.02 252.99 L422.99 253.73 L423.95 254.46 L424.91 255.20 L425.88 255.94 L426.84 256.67 L427.81 257.41 L428.77 258.15 L429.73 258.88 L430.70 259.62 L431.66 260.36 L432.62 261.09 L433.59 261.83 L434.55 262.56 L435.52 263.30 L436.48 264.04 L437.44 264.77 L438.41 265.51 L439.37 266.25 L440.33 266.98 L441.30 267.72 L442.26 268.46 L443.22 269.19 L444.19 269.93 L445.15 270.67 L446.12 271.40 L447.08 272.14 L448.04 272.88 L449.01 273.61 L449.97 274.35 L450.94 275.09 L451.90 275.82 L452.86 276.56 L453.83 277.30 L454.79 278.03 L455.75 278.77 L456.72 279.51 L457.68 280.24 L458.64 280.98 L459.61 281.72 L460.57 282.45 L461.54 283.19 L461.75 283.35" stroke="#00ffff"/>
<path d="M137.95 25.00 L138.68 25.59 L139.64 26.37 L140.61 27.15 L141.57 27.93 L142.54 28.71 L143.50 29.50 L144.46 30.28 L145.43 31.07 L146.39 31.86 L147.35 32.65 L148.32 33.44 L149.28 34.23 L150.25 35.02 L151.21 35.81 L152.17 36.60 L153.14 37.40 L154.10 38.19 L155.06 38.99 L156.03 39.78 L156.99 40.58 L157.95 41.38 L158.92 42.17 L159.88 42.97 L160.85 43.77 L161.81 44.57 L162.77 45.37 L163.74 46.17 L164.70 46.97 L165.67 47.77 L166.63 48.58 L167.59 49.38 L168.56 50.18 L169.52 50.99 L170.48 51.79 L171.45 52.59 L172.41 53.40 L173.38 54.20 L174.34 55.01 L175.30 55.82 L176.27 56.62 L177.23 57.43 L178.19 58.24 L179.16 59.04 L180.12 59.85 L181.09 60.66 L182.05 61.47 L183.01 62.28 L183.98 63.08 L184.94 63.89 L185.90 64.70 L186.87 65.51 L187.83 66.32 L188.79 67.13 L189.76 67.94 L190.72 68.75 L191.69 69.56 L192.65 70.38 L193.61 71.19 L194.58 72.00 L195.54 72.81 L196.50 73.62 L197.47 74.44 L198.43 75.25 L199.40 76.06 L200.36 76.87 L201.32 77.69 L202.29 78.50 L203.25 79.31 L204.22 80.13 L205.18 80.94 L206.14 81.75 L207.11 82.57 L208.07 83.38 L209.03 84.20 L210.00 85.01 L210.96 85.83 L211.92 86.64 L212.89 87.46 L213.85 88.27 L214.82 89.09 L215.78 89.90 L216.74 90.72 L217.71 91.53 L218.67 92.35 L219.63 93.17 L220.60 93.98 L221.56 94.80 L222.53 95.61 L223.49 96.43 L224.45 97.25 L225.42 98.06 L226.38 98.88 L227.34 99.70 L228.31 100.51 L229.27 101.33 L230.24 102.15 L231.20 102.97 L232.16 103.78 L233.13 104.60 L234.09 105.42 L235.05 106.24 L236.02 107.05 L236.98 107.87 L237.95 108.69 L238.91 109.51 L239.87 110.33 L240.84 111.14 L241.80 111.96 L242.76 112.78 L243.73 113.60 L244.69 114.42 L245.66 115.24 L246.62 116.05 L247.58 116.87 L248.55 117.69 L249.51 118.51 L250.47 119.33 L251.44 120.15 L252.40 120.97 L253.37 121.79 L254.33 122.61 L255.29 123.43 L256.26 124.24 L257.22 125.06 L258.19 125.88 L259.15 126.70 L260.11 127.52 L261.08 128.34 L262.04 129.16 L263.00 129.98 L263.97 130.80 L264.93 131.62 L265.89 132.44 L266.86 133.26 L267.82 134.08 L268.79 134.90 L269.75 135.72 L270.71 136.54 L271.68 137.36 L272.64 138.18 L273.61 139.00 L274.57 139.82 L275.53 140.64 L276.50 141.46 L277.46 142.28 L278.42 143.10 L279.39 143.93 L280.35 144.75 L281.31 145.57 L282.28 146.39 L283.24 147.21 L284.21 148.03 L285.17 148.85 L286.13 149.67 L287.10 150.49 L288.06 151.31 L289.02 152.13 L289.99 152.95 L290.95 153.78 L291.92 154.60 L292.88 155.42 L293.84 156.24 L294.81 157.06 L295.77 157.88 L296.74 158.70 L297.70 159.52 L298.66 160.35 L299.63 161.17 L300.59 161.99 L301.55 162.81 L302.52 163.63 L303.48 164.45 L304.44 165.27 L305.41 166.10 L306.37 166.92 L307.34 167.74 L308.30 168.56 L309.26 169.38 L310.23 170.21 L311.19 171.03 L312.15 171.85 L313.12 172.67 L314.08 173.49 L315.05 174.31 L316.01 175.14 L316.97 175.96 L317.94 176.78 L318.90 177.60 L319.87 178.42 L320.83 179.25 L321.79 180.07 L322.76 180.89 L323.72 181.71 L324.68 182.53 L325.65 183.36 L326.61 184.18 L327.58 185.00 L328.54 185.82 L329.50 186.65 L330.47 187.47 L331.43 188.29 L332.39 189.11 L333.36 189.94 L334.32 190.76 L335.29 191.58 L336.25 192.40 L337.21 193.22 L338.18 194.05 L339.14 194.87 L340.10 195.69 L341.07 196.51 L342.03 197.34 L343.00 198.16 L343.96 198.98 L344.92 199.80 L345.89 200.63 L346.85 201.45 L347.81 202.27 L348.78 203.10 L349.74 203.92 L350.70 204.74 L351.67 205.56 L352.63 206.39 L353.60 207.21 L354.56 208.03 L355.52 208.85 L356.49 209.68 L357.45 210.50 L358.42 211.32 L359.38 212.15 L360.34 212.97 L361.31 213.79 L362.27 214.61 L363.23 215.44 L364.20 216.26 L365.16 217.08 L366.12 217.91 L367.09 218.73 L368.05 219.55 L369.02 220.38 L369.98 221.20 L370.94 222.02 L371.91 222.84 L372.87 223.67 L373.83 224.49 L374.80 225.31 L375.76 226.14 L376.73 226.96 L377.69 227.78 L378.65 228.61 L379.62 229.43 L380.58 230.25 L381.55 231.08 L382.51 231.90 L383.47 232.72 L384.44 233.55 L385.40 234.37 L386.36 235.19 L387.33 236.02 L388.29 236.84 L389.25 237.66 L390.22 238.49 L391.18 239.31 L392.15 240.13 L393.11 240.96 L394.07 241.78 L395.04 242.60 L396.00 243.43 L396.96 244.25 L397.93 245.07 L398.89 245.90 L399.86 246.72 L400.82 247.54 L401.78 248.37 L402.75 249.19 L403.71 250.01 L404.68 250.84 L405.64 251.66 L406.60 252.48 L407.57 253.31 L408.53 254.13 L409.49 254.95 L410.46 255.78 L411.42 256.60 L412.38 257.43 L413.35 258.25 L414.31 259.07 L415.28 259.90 L416.24 260.72 L417.20 261.54 L418.17 262.37 L419.13 263.19 L420.10 264.01 L421.06 264.84 L422.02 265.66 L422.99 266.48 L423.95 267.31 L424.91 268.13 L425.88 268.96 L426.84 269.78 L427.81 270.60 L428.77 271.43 L429.73 272.25 L430.70 273.07 L431.66 273.90 L432.62 274.72 L433.59 275.55 L434.55 276.37 L435.52 277.19 L436.48 278.02 L437.44 278.84 L438.41 279.66 L439.37 280.49 L440.33 281.31 L441.30 282.14 L442.26 282.96 L442.72 283.35" stroke="#ffa500"/>
<path d="M153.19 25.00 L154.10 25.83 L155.06 26.70 L156.03 27.58 L156.99 28.46 L157.95 29.33 L158.92 30.21 L159.88 31.09 L160.85 31.97 L161.81 32.85 L162.77 33.73 L163.74 34.62 L164.70 35.50 L165.67 36.38 L166.63 37.26 L167.59 38.15 L168.56 39.03 L169.52 39.91 L170.48 40.80 L171.45 41.68 L172.41 42.57 L173.38 43.45 L174.34 44.34 L175.30 45.23 L176.27 46.11 L177.23 47.00 L178.19 47.89 L179.16 48.77 L180.12 49.66 L181.09 50.55 L182.05 51.44 L183.01 52.33 L183.98 53.22 L184.94 54.11 L185.90 55.00 L186.87 55.88 L187.83 56.77 L188.79 57.67 L189.76 58.56 L190.72 59.45 L191.69 60.34 L192.65 61.23 L193.61 62.12 L194.58 63.01 L195.54 63.90 L196.50 64.79 L197.47 65.69 L198.43 66.58 L199.40 67.47 L200.36 68.36 L201.32 69.26 L202.29 70.15 L203.25 71.04 L204.22 71.94 L205.18 72.83 L206.14 73.72 L207.11 74.62 L208.07 75.51 L209.03 76.41 L210.00 77.30 L210.96 78.19 L211.92 79.09 L212.89 79.98 L213.85 80.88 L214.82 81.77 L215.78 82.67 L216.74 83.56 L217.71 84.46 L218.67 85.35 L219.63 86.25 L220.60 87.15 L221.56 88.04 L222.53 88.94 L223.49 89.83 L224.45 90.73 L225.42 91.63 L226.38 92.52 L227.34 93.42 L228.31 94.31 L229.27 95.21 L230.24 96.11 L231.20 97.00 L232.16 97.90 L233.13 98.80 L234.09 99.69 L235.05 100.59 L236.02 101.49 L236.98 102.39 L237.95 103.28 L238.91 104.18 L239.87 105.08 L240.84 105.98 L241.80 106.87 L242.76 107.77 L243.73 108.67 L244.69 109.57 L245.66 110.46 L246.62 111.36 L247.58 112.26 L248.55 113.16 L249.51 114.06 L250.47 114.96 L251.44 115.85 L252.40 116.75 L253.37 117.65 L254.33 118.55 L255.29 119.45 L256.26 120.35 L257.22 121.24 L258.19 122.14 L259.15 123.04 L260.11 123.94 L261.08 124.84 L262.04 125.74 L263.00 126.64 L263.97 127.54 L264.93 128.44 L265.89 129.34 L266.86 130.23 L267.82 131.13 L268.79 132.03 L269.75 132.93 L270.71 133.83 L271.68 134.73 L272.64 135.63 L273.61 136.53 L274.57 137.43 L275.53 138.33 L276.50 139.23 L277.46 140.13 L278.42 141.03 L279.39 141.93 L280.35 142.83 L281.31 143.73 L282.28 144.63 L283.24 145.53 L284.21 146.43 L285.17 147.33 L286.13 148.23 L287.10 149.13 L288.06 150.03 L289.02 150.93 L289.99 151.83 L290.95 152.73 L291.92 153.63 L292.88 154.53 L293.84 155.43 L294.81 156.33 L295.77 157.23 L296.74 158.13 L297.70 159.03 L298.66 159.93 L299.63 160.83 L300.59 161.73 L301.55 162.63 L302.52 163.53 L303.48 164.43 L304.44 165.33 L305.41 166.24 L306.37 167.14 L307.34 168.04 L308.30 168.94 L309.26 169.84 L310.23 170.74 L311.19 171.64 L312.15 172.54 L313.12 173.44 L314.08 174.34 L315.05 175.24 L316.01 176.14 L316.97 177.05 L317.94 177.95 L318.90 178.85 L319.87 179.75 L320.83 180.65 L321.79 181.55 L322.76 182.45 L323.72 183.35 L324.68 184.25 L325.65 185.16 L326.61 186.06 L327.58 186.96 L328.54 187.86 L329.50 188.76 L330.47 189.66 L331.43 190.56 L332.39 191.47 L333.36 192.37 L334.32 193.27 L335.29 194.17 L336.25 195.07 L337.21 195.97 L338.18 196.87 L339.14 197.78 L340.10 198.68 L341.07 199.58 L342.03 200.48 L343.00 201.38 L343.96 202.28 L344.92 203.18 L345.89 204.09 L346.85 204.99 L347.81 205.89 L348.78 206.79 L349.74 207.69 L350.70 208.59 L351.67 209.50 L352.63 210.40 L353.60 211.30 L354.56 212.20 L355.52 213.10 L356.49 214.01 L357.45 214.91 L358.42 215.81 L359.38 216.71 L360.34 217.61 L361.31 218.51 L362.27 219.42 L363.23 220.32 L364.20 221.22 L365.16 222.12 L366.12 223.02 L367.09 223.93 L368.05 224.83 L369.02 225.73 L369.98 226.63 L370.94 227.53 L371.91 228.44 L372.87 229.34 L373.83 230.24 L374.80 231.14 L375.76 232.04 L376.73 232.95 L377.69 233.85 L378.65 234.75 L379.62 235.65 L380.58 236.55 L381.55 237.46 L382.51 238.36 L383.47 239.26 L384.44 240.16 L385.40 241.07 L386.36 241.97 L387.33 242.87 L388.29 243.77 L389.25 244.67 L390.22 245.58 L391.18 246.48 L392.15 247.38 L393.11 248.28 L394.07 249.19 L395.04 250.09 L396.00 250.99 L396.96 251.89 L397.93 252.79 L398.89 253.70 L399.86 254.60 L400.82 255.50 L401.78 256.40 L402.75 257.31 L403.71 258.21 L404.68 259.11 L405.64 260.01 L406.60 260.92 L407.57 261.82 L408.53 262.72 L409.49 263.62 L410.46 264.53 L411.42 265.43 L412.38 266.33 L413.35 267.23 L414.31 268.14 L415.28 269.04 L416.24 269.94 L417.20 270.84 L418.17 271.75 L419.13 272.65 L420.10 273.55 L421.06 274.45 L422.02 275.36 L422.99 276.26 L423.95 277.16 L424.91 278.06 L425.88 278.97 L426.84 279.87 L427.81 280.77 L428.77 281.67 L429.73 282.58 L430.56 283.35" stroke="#c080ff"/>
<path d="M166.23 25.00 L166.63 25.40 L167.59 26.36 L168.56 27.31 L169.52 28.27 L170.48 29.23 L171.45 30.19 L172.41 31.15 L173.38 32.11 L174.34 33.07 L175.30 34.03 L176.27 34.99 L177.23 35.95 L178.19 36.91 L179.16 37.87 L180.12 38.83 L181.09 39.79 L182.05 40.76 L183.01 41.72 L183.98 42.68 L184.94 43.64 L185.90 44.61 L186.87 45.57 L187.83 46.53 L188.79 47.50 L189.76 48.46 L190.72 49.42 L191.69 50.39 L192.65 51.35 L193.61 52.32 L194.58 53.28 L195.54 54.25 L196.50 55.21 L197.47 56.18 L198.43 57.14 L199.40 58.11 L200.36 59.08 L201.32 60.04 L202.29 61.01 L203.25 61.97 L204.22 62.94 L205.18 63.91 L206.14 64.87 L207.11 65.84 L208.07 66.81 L209.03 67.78 L210.00 68.74 L210.96 69.71 L211.92 70.68 L212.89 71.65 L213.85 72.61 L214.82 73.58 L215.78 74.55 L216.74 75.52 L217.71 76.49 L218.67 77.45 L219.63 78.42 L220.60 79.39 L221.56 80.36 L222.53 81.33 L223.49 82.30 L224.45 83.27 L225.42 84.24 L226.38 85.21 L227.34 86.18 L228.31 87.14 L229.27 88.11 L230.24 89.08 L231.20 90.05 L232.16 91.02 L233.13 91.99 L234.09 92.96 L235.05 93.93 L236.02 94.90 L236.98 95.87 L237.95 96.84 L238.91 97.81 L239.87 98.78 L240.84 99.75 L241.80 100.73 L242.76 101.70 L243.73 102.67 L244.69 103.64 L245.66 104.61 L246.62 105.58 L247.58 106.55 L248.55 107.52 L249.51 108.49 L250.47 109.46 L251.44 110.43 L252.40 111.41 L253.37 112.38 L254.33 113.35 L255.29 114.32 L256.26 115.29 L257.22 116.26 L258.19 117.23 L259.15 118.21 L260.11 119.18 L261.08 120.15 L262.04 121.12 L263.00 122.09 L263.97 123.06 L264.93 124.04 L265.89 125.01 L266.86 125.98 L267.82 126.95 L268.79 127.92 L269.75 128.90 L270.71 129.87 L271.68 130.84 L272.64 131.81 L273.61 132.79 L274.57 133.76 L275.53 134.73 L276.50 135.70 L277.46 136.67 L278.42 137.65 L279.39 138.62 L280.35 139.59 L281.31 140.56 L282.28 141.54 L283.24 142.51 L284.21 143.48 L285.17 144.46 L286.13 145.43 L287.10 146.40 L288.06 147.37 L289.02 148.35 L289.99 149.32 L290.95 150.29 L291.92 151.27 L292.88 152.24 L293.84 153.21 L294.81 154.18 L295.77 155.16 L296.74 156.13 L297.70 157.10 L298.66 158.08 L299.63 159.05 L300.59 160.02 L301.55 161.00 L302.52 161.97 L303.48 162.94 L304.44 163.92 L305.41 164.89 L306.37 165.86 L307.34 166.84 L308.30 167.81 L309.26 168.78 L310.23 169.76 L311.19 170.73 L312.15 171.70 L313.12 172.68 L314.08 173.65 L315.05 174.63 L316.01 175.60 L316.97 176.57 L317.94 177.55 L318.90 178.52 L319.87 179.49 L320.83 180.47 L321.79 181.44 L322.76 182.42 L323.72 183.39 L324.68 184.36 L325.65 185.34 L326.61 186.31 L327.58 187.28 L328.54 188.26 L329.50 189.23 L330.47 190.21 L331.43 191.18 L332.39 192.15 L333.36 193.13 L334.32 194.10 L335.29 195.08 L336.25 196.05 L337.21 197.02 L338.18 198.00 L339.14 198.97 L340.10 199.95 L341.07 200.92 L342.03 201.90 L343.00 202.87 L343.96 203.84 L344.92 204.82 L345.89 205.79 L346.85 206.77 L347.81 207.74 L348.78 208.71 L349.74 209.69 L350.70 210.66 L351.67 211.64 L352.63 212.61 L353.60 213.59 L354.56 214.56 L355.52 215.54 L356.49 216.51 L357.45 217.48 L358.42 218.46 L359.38 219.43 L360.34 220.41 L361.31 221.38 L362.27 222.36 L363.23 223.33 L364.20 224.31 L365.16 225.28 L366.12 226.25 L367.09 227.23 L368.05 228.20 L369.02 229.18 L369.98 230.15 L370.94 231.13 L371.91 232.10 L372.87 233.08 L373.83 234.05 L374.80 235.03 L375.76 236.00 L376.73 236.97 L377.69 237.95 L378.65 238.92 L379.62 239.90 L380.58 240.87 L381.55 241.85 L382.51 242.82 L383.47 243.80 L384.44 244.77 L385.40 245.75 L386.36 246.72 L387.33 247.70 L388.29 248.67 L389.25 249.65 L390.22 250.62 L391.18 251.60 L392.15 252.57 L393.11 253.55 L394.07 254.52 L395.04 255.50 L396.00 256.47 L396.96 257.45 L397.93 258.42 L398.89 259.40 L399.86 260.37 L400.82 261.35 L401.78 262.32 L402.75 263.29 L403.71 264.27 L404.68 265.24 L405.64 266.22 L406.60 267.19 L407.57 268.17 L408.53 269.14 L409.49 270.12 L410.46 271.09 L411.42 272.07 L412.38 273.04 L413.35 274.02 L414.31 274.99 L415.28 275.97 L416.24 276.95 L417.20 277.92 L418.17 278.90 L419.13 279.87 L420.10 280.85 L421.06 281.82 L422.02 282.80 L422.57 283.35" stroke="#90ee90"/>
<path d="M177.79 25.00 L178.19 25.43 L179.16 26.46 L180.12 27.49 L181.09 28.52 L182.05 29.55 L183.01 30.58 L183.98 31.61 L184.94 32.64 L185.90 33.67 L186.87 34.70 L187.83 35.74 L188.79 36.77 L189.76 37.80 L190.72 38.83 L191.69 39.86 L192.65 40.90 L193.61 41.93 L194.58 42.96 L195.54 44.00 L196.50 45.03 L197.47 46.06 L198.43 47.10 L199.40 48.13 L200.36 49.16 L201.32 50.20 L202.29 51.23 L203.25 52.27 L204.22 53.30 L205.18 54.34 L206.14 55.37 L207.11 56.41 L208.07 57.44 L209.03 58.48 L210.00 59.51 L210.96 60.55 L211.92 61.58 L212.89 62.62 L213.85 63.66 L214.82 64.69 L215.78 65.73 L216.74 66.76 L217.71 67.80 L218.67 68.84 L219.63 69.87 L220.60 70.91 L221.56 71.95 L222.53 72.98 L223.49 74.02 L224.45 75.06 L225.42 76.09 L226.38 77.13 L227.34 78.17 L228.31 79.21 L229.27 80.24 L230.24 81.28 L231.20 82.32 L232.16 83.36 L233.13 84.39 L234.09 85.43 L235.05 86.47 L236.02 87.51 L236.98 88.54 L237.95 89.58 L238.91 90.62 L239.87 91.66 L240.84 92.70 L241.80 93.74 L242.76 94.77 L243.73 95.81 L244.69 96.85 L245.66 97.89 L246.62 98.93 L247.58 99.97 L248.55 101.01 L249.51 102.04 L250.47 103.08 L251.44 104.12 L252.40 105.16 L253.37 106.20 L254.33 107.24 L255.29 108.28 L256.26 109.32 L257.22 110.36 L258.19 111.40 L259.15 112.44 L260.11 113.47 L261.08 114.51 L262.04 115.55 L263.00 116.59 L263.97 117.63 L264.93 118.67 L265.89 119.71 L266.86 120.75 L267.82 121.79 L268.79 122.83 L269.75 123.87 L270.71 124.91 L271.68 125.95 L272.64 126.99 L273.61 128.03 L274.57 129.07 L275.53 130.11 L276.50 131.15 L277.46 132.19 L278.42 133.23 L279.39 134.27 L280.35 135.31 L281.31 136.35 L282.28 137.39 L283.24 138.43 L284.21 139.47 L285.17 140.51 L286.13 141.55 L287.10 142.59 L288.06 143.63 L289.02 144.67 L289.99 145.72 L290.95 146.76 L291.92 147.80 L292.88 148.84 L293.84 149.88 L294.81 150.92 L295.77 151.96 L296.74 153.00 L297.70 154.04 L298.66 155.08 L299.63 156.12 L300.59 157.16 L301.55 158.20 L302.52 159.25 L303.48 160.29 L304.44 161.33 L305.41 162.37 L306.37 163.41 L307.34 164.45 L308.30 165.49 L309.26 166.53 L310.23 167.57 L311.19 168.61 L312.15 169.66 L313.12 170.70 L314.08 171.74 L315.05 172.78 L316.01 173.82 L316.97 174.86 L317.94 175.90 L318.90 176.94 L319.87 177.99 L320.83 179.03 L321.79 180.07 L322.76 181.11 L323.72 182.15 L324.68 183.19 L325.65 184.23 L326.61 185.28 L327.58 186.32 L328.54 187.36 L329.50 188.40 L330.47 189.44 L331.43 190.48 L332.39 191.52 L333.36 192.57 L334.32 193.61 L335.29 194.65 L336.25 195.69 L337.21 196.73 L338.18 197.77 L339.14 198.82 L340.10 199.86 L341.07 200.90 L342.03 201.94 L343.00 202.98 L343.96 204.02 L344.92 205.07 L345.89 206.11 L346.85 207.15 L347.81 208.19 L348.78 209.23 L349.74 210.28 L350.70 211.32 L351.67 212.36 L352.63 213.40 L353.60 214.44 L354.56 215.49 L355.52 216.53 L356.49 217.57 L357.45 218.61 L358.42 219.65 L359.38 220.69 L360.34 221.74 L361.31 222.78 L362.27 223.82 L363.23 224.86 L364.20 225.91 L365.16 226.95 L366.12 227.99 L367.09 229.03 L368.05 230.07 L369.02 231.12 L369.98 232.16 L370.94 233.20 L371.91 234.24 L372.87 235.28 L373.83 236.33 L374.80 237.37 L375.76 238.41 L376.73 239.45 L377.69 240.50 L378.65 241.54 L379.62 242.58 L380.58 243.62 L381.55 244.66 L382.51 245.71 L383.47 246.75 L384.44 247.79 L385.40 248.83 L386.36 249.88 L387.33 250.92 L388.29 251.96 L389.25 253.00 L390.22 254.04 L391.18 255.09 L392.15 256.13 L393.11 257.17 L394.07 258.21 L395.04 259.26 L396.00 260.30 L396.96 261.34 L397.93 262.38 L398.89 263.43 L399.86 264.47 L400.82 265.51 L401.78 266.55 L402.75 267.60 L403.71 268.64 L404.68 269.68 L405.64 270.72 L406.60 271.77 L407.57 272.81 L408.53 273.85 L409.49 274.89 L410.46 275.94 L411.42 276.98 L412.38 278.02 L413.35 279.06 L414.31 280.11 L415.28 281.15 L416.24 282.19 L417.20 283.23 L417.31 283.35" stroke="#006400"/>
<path d="M188.28 25.00 L188.79 25.58 L189.76 26.68 L190.72 27.77 L191.69 28.87 L192.65 29.97 L193.61 31.06 L194.58 32.16 L195.54 33.26 L196.50 34.35 L197.47 35.45 L198.43 36.55 L199.40 37.65 L200.36 38.74 L201.32 39.84 L202.29 40.94 L203.25 42.04 L204.22 43.14 L205.18 44.24 L206.14 45.33 L207.11 46.43 L208.07 47.53 L209.03 48.63 L210.00 49.73 L210.96 50.83 L211.92 51.93 L212.89 53.03 L213.85 54.13 L214.82 55.23 L215.78 56.33 L216.74 57.43 L217.71 58.53 L218.67 59.63 L219.63 60.73 L220.60 61.83 L221.56 62.93 L222.53 64.03 L223.49 65.13 L224.45 66.23 L225.42 67.33 L226.38 68.43 L227.34 69.53 L228.31 70.63 L229.27 71.74 L230.24 72.84 L231.20 73.94 L232.16 75.04 L233.13 76.14 L234.09 77.24 L235.05 78.34 L236.02 79.44 L236.98 80.55 L237.95 81.65 L238.91 82.75 L239.87 83.85 L240.84 84.95 L241.80 86.06 L242.76 87.16 L243.73 88.26 L244.69 89.36 L245.66 90.46 L246.62 91.57 L247.58 92.67 L248.55 93.77 L249.51 94.87 L250.47 95.98 L251.44 97.08 L252.40 98.18 L253.37 99.28 L254.33 100.39 L255.29 101.49 L256.26 102.59 L257.22 103.69 L258.19 104.80 L259.15 105.90 L260.11 107.00 L261.08 108.11 L262.04 109.21 L263.00 110.31 L263.97 111.42 L264.93 112.52 L265.89 113.62 L266.86 114.73 L267.82 115.83 L268.79 116.93 L269.75 118.04 L270.71 119.14 L271.68 120.24 L272.64 121.35 L273.61 122.45 L274.57 123.55 L275.53 124.66 L276.50 125.76 L277.46 126.86 L278.42 127.97 L279.39 129.07 L280.35 130.17 L281.31 131.28 L282.28 132.38 L283.24 133.49 L284.21 134.59 L285.17 135.69 L286.13 136.80 L287.10 137.90 L288.06 139.01 L289.02 140.11 L289.99 141.21 L290.95 142.32 L291.92 143.42 L292.88 144.53 L293.84 145.63 L294.81 146.73 L295.77 147.84 L296.74 148.94 L297.70 150.05 L298.66 151.15 L299.63 152.26 L300.59 153.36 L301.55 154.47 L302.52 155.57 L303.48 156.67 L304.44 157.78 L305.41 158.88 L306.37 159.99 L307.34 161.09 L308.30 162.20 L309.26 163.30 L310.23 164.41 L311.19 165.51 L312.15 166.61 L313.12 167.72 L314.08 168.82 L315.05 169.93 L316.01 171.03 L316.97 172.14 L317.94 173.24 L318.90 174.35 L319.87 175.45 L320.83 176.56 L321.79 177.66 L322.76 178.77 L323.72 179.87 L324.68 180.98 L325.65 182.08 L326.61 183.19 L327.58 184.29 L328.54 185.40 L329.50 186.50 L330.47 187.61 L331.43 188.71 L332.39 189.82 L333.36 190.92 L334.32 192.03 L335.29 193.13 L336.25 194.24 L337.21 195.34 L338.18 196.45 L339.14 197.55 L340.10 198.66 L341.07 199.76 L342.03 200.87 L343.00 201.97 L343.96 203.08 L344.92 204.18 L345.89 205.29 L346.85 206.39 L347.81 207.50 L348.78 208.60 L349.74 209.71 L350.70 210.81 L351.67 211.92 L352.63 213.03 L353.60 214.13 L354.56 215.24 L355.52 216.34 L356.49 217.45 L357.45 218.55 L358.42 219.66 L359.38 220.76 L360.34 221.87 L361.31 222.97 L362.27 224.08 L363.23 225.19 L364.20 226.29 L365.16 227.40 L366.12 228.50 L367.09 229.61 L368.05 230.71 L369.02 231.82 L369.98 232.92 L370.94 234.03 L371.91 235.13 L372.87 236.24 L373.83 237.35 L374.80 238.45 L375.76 239.56 L376.73 240.66 L377.69 241.77 L378.65 242.87 L379.62 243.98 L380.58 245.09 L381.55 246.19 L382.51 247.30 L383.47 248.40 L384.44 249.51 L385.40 250.61 L386.36 251.72 L387.33 252.83 L388.29 253.93 L389.25 255.04 L390.22 256.14 L391.18 257.25 L392.15 258.35 L393.11 259.46 L394.07 260.57 L395.04 261.67 L396.00 262.78 L396.96 263.88 L397.93 264.99 L398.89 266.09 L399.86 267.20 L400.82 268.31 L401.78 269.41 L402.75 270.52 L403.71 271.62 L404.68 272.73 L405.64 273.84 L406.60 274.94 L407.57 276.05 L408.53 277.15 L409.49 278.26 L410.46 279.37 L411.42 280.47 L412.38 281.58 L413.35 282.68 L413.93 283.35" stroke="#40e0d0"/>
<path d="M197.95 25.00 L198.43 25.58 L199.40 26.74 L200.36 27.90 L201.32 29.05 L202.29 30.21 L203.25 31.37 L204.22 32.53 L205.18 33.69 L206.14 34.85 L207.11 36.01 L208.07 37.17 L209.03 38.33 L210.00 39.49 L210.96 40.65 L211.92 41.81 L212.89 42.96 L213.85 44.12 L214.82 45.28 L215.78 46.44 L216.74 47.60 L217.71 48.77 L218.67 49.93 L219.63 51.09 L220.60 52.25 L221.56 53.41 L222.53 54.57 L223.49 55.73 L224.45 56.89 L225.42 58.05 L226.38 59.21 L227.34 60.37 L228.31 61.53 L229.27 62.70 L230.24 63.86 L231.20 65.02 L232.16 66.18 L233.13 67.34 L234.09 68.50 L235.05 69.66 L236.02 70.83 L236.98 71.99 L237.95 73.15 L238.91 74.31 L239.87 75.47 L240.84 76.64 L241.80 77.80 L242.76 78.96 L243.73 80.12 L244.69 81.28 L245.66 82.45 L246.62 83.61 L247.58 84.77 L248.55 85.93 L249.51 87.10 L250.47 88.26 L251.44 89.42 L252.40 90.58 L253.37 91.75 L254.33 92.91 L255.29 94.07 L256.26 95.24 L257.22 96.40 L258.19 97.56 L259.15 98.73 L260.11 99.89 L261.08 101.05 L262.04 102.21 L263.00 103.38 L263.97 104.54 L264.93 105.70 L265.89 106.87 L266.86 108.03 L267.82 109.19 L268.79 110.36 L269.75 111.52 L270.71 112.68 L271.68 113.85 L272.64 115.01 L273.61 116.18 L274.57 117.34 L275.53 118.50 L276.50 119.67 L277.46 120.83 L278.42 121.99 L279.39 123.16 L280.35 124.32 L281.31 125.49 L282.28 126.65 L283.24 127.81 L284.21 128.98 L285.17 130.14 L286.13 131.30 L287.10 132.47 L288.06 133.63 L289.02 134.80 L289.99 135.96 L290.95 137.13 L291.92 138.29 L292.88 139.45 L293.84 140.62 L294.81 141.78 L295.77 142.95 L296.74 144.11 L297.70 145.28 L298.66 146.44 L299.63 147.60 L300.59 148.77 L301.55 149.93 L302.52 151.10 L303.48 152.26 L304.44 153.43 L305.41 154.59 L306.37 155.76 L307.34 156.92 L308.30 158.08 L309.26 159.25 L310.23 160.41 L311.19 161.58 L312.15 162.74 L313.12 163.91 L314.08 165.07 L315.05 166.24 L316.01 167.40 L316.97 168.57 L317.94 169.73 L318.90 170.90 L319.87 172.06 L320.83 173.23 L321.79 174.39 L322.76 175.56 L323.72 176.72 L324.68 177.88 L325.65 179.05 L326.61 180.21 L327.58 181.38 L328.54 182.54 L329.50 183.71 L330.47 184.87 L331.43 186.04 L332.39 187.20 L333.36 188.37 L334.32 189.53 L335.29 190.70 L336.25 191.86 L337.21 193.03 L338.18 194.20 L339.14 195.36 L340.10 196.53 L341.07 197.69 L342.03 198.86 L343.00 200.02 L343.96 201.19 L344.92 202.35 L345.89 203.52 L346.85 204.68 L347.81 205.85 L348.78 207.01 L349.74 208.18 L350.70 209.34 L351.67 210.51 L352.63 211.67 L353.60 212.84 L354.56 214.00 L355.52 215.17 L356.49 216.33 L357.45 217.50 L358.42 218.67 L359.38 219.83 L360.34 221.00 L361.31 222.16 L362.27 223.33 L363.23 224.49 L364.20 225.66 L365.16 226.82 L366.12 227.99 L367.09 229.15 L368.05 230.32 L369.02 231.49 L369.98 232.65 L370.94 233.82 L371.91 234.98 L372.87 236.15 L373.83 237.31 L374.80 238.48 L375.76 239.64 L376.73 240.81 L377.69 241.98 L378.65 243.14 L379.62 244.31 L380.58 245.47 L381.55 246.64 L382.51 247.80 L383.47 248.97 L384.44 250.14 L385.40 251.30 L386.36 252.47 L387.33 253.63 L388.29 254.80 L389.25 255.96 L390.22 257.13 L391.18 258.30 L392.15 259.46 L393.11 260.63 L394.07 261.79 L395.04 262.96 L396.00 264.12 L396.96 265.29 L397.93 266.46 L398.89 267.62 L399.86 268.79 L400.82 269.95 L401.78 271.12 L402.75 272.28 L403.71 273.45 L404.68 274.62 L405.64 275.78 L406.60 276.95 L407.57 278.11 L408.53 279.28 L409.49 280.45 L410.46 281.61 L411.42 282.78 L411.89 283.35" stroke="#ffb9bb"/>
<path d="M206.95 25.00 L207.11 25.19 L208.07 26.41 L209.03 27.63 L210.00 28.84 L210.96 30.06 L211.92 31.28 L212.89 32.50 L213.85 33.71 L214.82 34.93 L215.78 36.15 L216.74 37.36 L217.71 38.58 L218.67 39.80 L219.63 41.02 L220.60 42.24 L221.56 43.45 L222.53 44.67 L223.49 45.89 L224.45 47.11 L225.42 48.33 L226.38 49.54 L227.34 50.76 L228.31 51.98 L229.27 53.20 L230.24 54.42 L231.20 55.64 L232.16 56.86 L233.13 58.07 L234.09 59.29 L235.05 60.51 L236.02 61.73 L236.98 62.95 L237.95 64.17 L238.91 65.39 L239.87 66.61 L240.84 67.83 L241.80 69.05 L242.76 70.27 L243.73 71.48 L244.69 72.70 L245.66 73.92 L246.62 75.14 L247.58 76.36 L248.55 77.58 L249.51 78.80 L250.47 80.02 L251.44 81.24 L252.40 82.46 L253.37 83.68 L254.33 84.90 L255.29 86.12 L256.26 87.34 L257.22 88.56 L258.19 89.78 L259.15 91.00 L260.11 92.22 L261.08 93.44 L262.04 94.66 L263.00 95.88 L263.97 97.10 L264.93 98.32 L265.89 99.54 L266.86 100.76 L267.82 101.99 L268.79 103.21 L269.75 104.43 L270.71 105.65 L271.68 106.87 L272.64 108.09 L273.61 109.31 L274.57 110.53 L275.53 111.75 L276.50 112.97 L277.46 114.19 L278.42 115.41 L279.39 116.63 L280.35 117.86 L281.31 119.08 L282.28 120.30 L283.24 121.52 L284.21 122.74 L285.17 123.96 L286.13 125.18 L287.10 126.40 L288.06 127.62 L289.02 128.85 L289.99 130.07 L290.95 131.29 L291.92 132.51 L292.88 133.73 L293.84 134.95 L294.81 136.17 L295.77 137.39 L296.74 138.62 L297.70 139.84 L298.66 141.06 L299.63 142.28 L300.59 143.50 L301.55 144.72 L302.52 145.94 L303.48 147.17 L304.44 148.39 L305.41 149.61 L306.37 150.83 L307.34 152.05 L308.30 153.27 L309.26 154.50 L310.23 155.72 L311.19 156.94 L312.15 158.16 L313.12 159.38 L314.08 160.60 L315.05 161.83 L316.01 163.05 L316.97 164.27 L317.94 165.49 L318.90 166.71 L319.87 167.94 L320.83 169.16 L321.79 170.38 L322.76 171.60 L323.72 172.82 L324.68 174.04 L325.65 175.27 L326.61 176.49 L327.58 177.71 L328.54 178.93 L329.50 180.16 L330.47 181.38 L331.43 182.60 L332.39 183.82 L333.36 185.04 L334.32 186.27 L335.29 187.49 L336.25 188.71 L337.21 189.93 L338.18 191.15 L339.14 192.38 L340.10 193.60 L341.07 194.82 L342.03 196.04 L343.00 197.27 L343.96 198.49 L344.92 199.71 L345.89 200.93 L346.85 202.15 L347.81 203.38 L348.78 204.60 L349.74 205.82 L350.70 207.04 L351.67 208.27 L352.63 209.49 L353.60 210.71 L354.56 211.93 L355.52 213.16 L356.49 214.38 L357.45 215.60 L358.42 216.82 L359.38 218.05 L360.34 219.27 L361.31 220.49 L362.27 221.71 L363.23 222.94 L364.20 224.16 L365.16 225.38 L366.12 226.60 L367.09 227.83 L368.05 229.05 L369.02 230.27 L369.98 231.49 L370.94 232.72 L371.91 233.94 L372.87 235.16 L373.83 236.38 L374.80 237.61 L375.76 238.83 L376.73 240.05 L377.69 241.27 L378.65 242.50 L379.62 243.72 L380.58 244.94 L381.55 246.16 L382.51 247.39 L383.47 248.61 L384.44 249.83 L385.40 251.06 L386.36 252.28 L387.33 253.50 L388.29 254.72 L389.25 255.95 L390.22 257.17 L391.18 258.39 L392.15 259.61 L393.11 260.84 L394.07 262.06 L395.04 263.28 L396.00 264.51 L396.96 265.73 L397.93 266.95 L398.89 268.17 L399.86 269.40 L400.82 270.62 L401.78 271.84 L402.75 273.07 L403.71 274.29 L404.68 275.51 L405.64 276.73 L406.60 277.96 L407.57 279.18 L408.53 280.40 L409.49 281.63 L410.46 282.85 L410.85 283.35" stroke="#f0e68c"/>
<path d="M215.41 25.00 L215.78 25.49 L216.74 26.76 L217.71 28.04 L218.67 29.31 L219.63 30.58 L220.60 31.85 L221.56 33.13 L222.53 34.40 L223.49 35.67 L224.45 36.94 L225.42 38.22 L226.38 39.49 L227.34 40.76 L228.31 42.04 L229.27 43.31 L230.24 44.58 L231.20 45.86 L232.16 47.13 L233.13 48.40 L234.09 49.68 L235.05 50.95 L236.02 52.22 L236.98 53.50 L237.95 54.77 L238.91 56.04 L239.87 57.32 L240.84 58.59 L241.80 59.87 L242.76 61.14 L243.73 62.41 L244.69 63.69 L245.66 64.96 L246.62 66.24 L247.58 67.51 L248.55 68.78 L249.51 70.06 L250.47 71.33 L251.44 72.61 L252.40 73.88 L253.37 75.16 L254.33 76.43 L255.29 77.71 L256.26 78.98 L257.22 80.26 L258.19 81.53 L259.15 82.80 L260.11 84.08 L261.08 85.35 L262.04 86.63 L263.00 87.90 L263.97 89.18 L264.93 90.45 L265.89 91.73 L266.86 93.00 L267.82 94.28 L268.79 95.55 L269.75 96.83 L270.71 98.10 L271.68 99.38 L272.64 100.66 L273.61 101.93 L274.57 103.21 L275.53 104.48 L276.50 105.76 L277.46 107.03 L278.42 108.31 L279.39 109.58 L280.35 110.86 L281.31 112.13 L282.28 113.41 L283.24 114.69 L284.21 115.96 L285.17 117.24 L286.13 118.51 L287.10 119.79 L288.06 121.06 L289.02 122.34 L289.99 123.61 L290.95 124.89 L291.92 126.17 L292.88 127.44 L293.84 128.72 L294.81 129.99 L295.77 131.27 L296.74 132.55 L297.70 133.82 L298.66 135.10 L299.63 136.37 L300.59 137.65 L301.55 138.93 L302.52 140.20 L303.48 141.48 L304.44 142.75 L305.41 144.03 L306.37 145.31 L307.34 146.58 L308.30 147.86 L309.26 149.14 L310.23 150.41 L311.19 151.69 L312.15 152.96 L313.12 154.24 L314.08 155.52 L315.05 156.79 L316.01 158.07 L316.97 159.35 L317.94 160.62 L318.90 161.90 L319.87 163.17 L320.83 164.45 L321.79 165.73 L322.76 167.00 L323.72 168.28 L324.68 169.56 L325.65 170.83 L326.61 172.11 L327.58 173.39 L328.54 174.66 L329.50 175.94 L330.47 177.22 L331.43 178.49 L332.39 179.77 L333.36 181.05 L334.32 182.32 L335.29 183.60 L336.25 184.88 L337.21 186.15 L338.18 187.43 L339.14 188.71 L340.10 189.98 L341.07 191.26 L342.03 192.54 L343.00 193.81 L343.96 195.09 L344.92 196.37 L345.89 197.64 L346.85 198.92 L347.81 200.20 L348.78 201.47 L349.74 202.75 L350.70 204.03 L351.67 205.30 L352.63 206.58 L353.60 207.86 L354.56 209.13 L355.52 210.41 L356.49 211.69 L357.45 212.97 L358.42 214.24 L359.38 215.52 L360.34 216.80 L361.31 218.07 L362.27 219.35 L363.23 220.63 L364.20 221.90 L365.16 223.18 L366.12 224.46 L367.09 225.74 L368.05 227.01 L369.02 228.29 L369.98 229.57 L370.94 230.84 L371.91 232.12 L372.87 233.40 L373.83 234.67 L374.80 235.95 L375.76 237.23 L376.73 238.51 L377.69 239.78 L378.65 241.06 L379.62 242.34 L380.58 243.61 L381.55 244.89 L382.51 246.17 L383.47 247.45 L384.44 248.72 L385.40 250.00 L386.36 251.28 L387.33 252.55 L388.29 253.83 L389.25 255.11 L390.22 256.39 L391.18 257.66 L392.15 258.94 L393.11 260.22 L394.07 261.50 L395.04 262.77 L396.00 264.05 L396.96 265.33 L397.93 266.60 L398.89 267.88 L399.86 269.16 L400.82 270.44 L401.78 271.71 L402.75 272.99 L403.71 274.27 L404.68 275.55 L405.64 276.82 L406.60 278.10 L407.57 279.38 L408.53 280.66 L409.49 281.93 L410.46 283.21 L410.56 283.35" stroke="#c0c0c0"/>
<path d="M223.40 25.00 L223.49 25.12 L224.45 26.44 L225.42 27.77 L226.38 29.09 L227.34 30.42 L228.31 31.74 L229.27 33.07 L230.24 34.40 L231.20 35.72 L232.16 37.05 L233.13 38.37 L234.09 39.70 L235.05 41.03 L236.02 42.35 L236.98 43.68 L237.95 45.00 L238.91 46.33 L239.87 47.66 L240.84 48.98 L241.80 50.31 L242.76 51.63 L243.73 52.96 L244.69 54.29 L245.66 55.61 L246.62 56.94 L247.58 58.27 L248.55 59.59 L249.51 60.92 L250.47 62.25 L251.44 63.57 L252.40 64.90 L253.37 66.23 L254.33 67.56 L255.29 68.88 L256.26 70.21 L257.22 71.54 L258.19 72.86 L259.15 74.19 L260.11 75.52 L261.08 76.84 L262.04 78.17 L263.00 79.50 L263.97 80.83 L264.93 82.15 L265.89 83.48 L266.86 84.81 L267.82 86.14 L268.79 87.46 L269.75 88.79 L270.71 90.12 L271.68 91.45 L272.64 92.77 L273.61 94.10 L274.57 95.43 L275.53 96.76 L276.50 98.08 L277.46 99.41 L278.42 100.74 L279.39 102.07 L280.35 103.40 L281.31 104.72 L282.28 106.05 L283.24 107.38 L284.21 108.71 L285.17 110.03 L286.13 111.36 L287.10 112.69 L288.06 114.02 L289.02 115.35 L289.99 116.68 L290.95 118.00 L291.92 119.33 L292.88 120.66 L293.84 121.99 L294.81 123.32 L295.77 124.64 L296.74 125.97 L297.70 127.30 L298.66 128.63 L299.63 129.96 L300.59 131.29 L301.55 132.61 L302.52 133.94 L303.48 135.27 L304.44 136.60 L305.41 137.93 L306.37 139.26 L307.34 140.58 L308.30 141.91 L309.26 143.24 L310.23 144.57 L311.19 145.90 L312.15 147.23 L313.12 148.56 L314.08 149.88 L315.05 151.21 L316.01 152.54 L316.97 153.87 L317.94 155.20 L318.90 156.53 L319.87 157.86 L320.83 159.18 L321.79 160.51 L322.76 161.84 L323.72 163.17 L324.68 164.50 L325.65 165.83 L326.61 167.16 L327.58 168.49 L328.54 169.81 L329.50 171.14 L330.47 172.47 L331.43 173.80 L332.39 175.13 L333.36 176.46 L334.32 177.79 L335.29 179.12 L336.25 180.45 L337.21 181.77 L338.18 183.10 L339.14 184.43 L340.10 185.76 L341.07 187.09 L342.03 188.42 L343.00 189.75 L343.96 191.08 L344.92 192.41 L345.89 193.74 L346.85 195.07 L347.81 196.39 L348.78 197.72 L349.74 199.05 L350.70 200.38 L351.67 201.71 L352.63 203.04 L353.60 204.37 L354.56 205.70 L355.52 207.03 L356.49 208.36 L357.45 209.69 L358.42 211.01 L359.38 212.34 L360.34 213.67 L361.31 215.00 L362.27 216.33 L363.23 217.66 L364.20 218.99 L365.16 220.32 L366.12 221.65 L367.09 222.98 L368.05 224.31 L369.02 225.64 L369.98 226.97 L370.94 228.30 L371.91 229.62 L372.87 230.95 L373.83 232.28 L374.80 233.61 L375.76 234.94 L376.73 236.27 L377.69 237.60 L378.65 238.93 L379.62 240.26 L380.58 241.59 L381.55 242.92 L382.51 244.25 L383.47 245.58 L384.44 246.91 L385.40 248.24 L386.36 249.57 L387.33 250.90 L388.29 252.22 L389.25 253.55 L390.22 254.88 L391.18 256.21 L392.15 257.54 L393.11 258.87 L394.07 260.20 L395.04 261.53 L396.00 262.86 L396.96 264.19 L397.93 265.52 L398.89 266.85 L399.86 268.18 L400.82 269.51 L401.78 270.84 L402.75 272.17 L403.71 273.50 L404.68 274.83 L405.64 276.16 L406.60 277.49 L407.57 278.82 L408.53 280.15 L409.49 281.47 L410.46 282.80 L410.85 283.35" stroke="#000000"/>
</g>
<path d="M77.00 25.00 H462.50 V283.35 H77.00 Z" fill="none" stroke="#000" stroke-width="1"/>
<g style="opacity:0.999">
<text x="79.90" y="311.0" text-anchor="middle">0</text>
<text x="128.09" y="311.0" text-anchor="middle">0.5</text>
<text x="176.28" y="311.0" text-anchor="middle">1</text>
<text x="224.46" y="311.0" text-anchor="middle">1.5</text>
<text x="272.65" y="311.0" text-anchor="middle">2</text>
<text x="320.84" y="311.0" text-anchor="middle">2.5</text>
<text x="369.02" y="311.0" text-anchor="middle">3</text>
<text x="417.21" y="311.0" text-anchor="middle">3.5</text>
<text x="465.40" y="311.0" text-anchor="middle">4</text>
<text x="64.7" y="31.94" text-anchor="end">1</text>
<text x="64.7" y="68.85" text-anchor="end">0</text>
<text x="64.7" y="105.75" text-anchor="end">-1</text>
<text x="64.7" y="142.66" text-anchor="end">-2</text>
<text x="64.7" y="179.57" text-anchor="end">-3</text>
<text x="64.7" y="216.48" text-anchor="end">-4</text>
<text x="64.7" y="253.38" text-anchor="end">-5</text>
<text x="64.7" y="290.29" text-anchor="end">-6</text>
<text x="106.2" y="253.3">(b)</text>
<text x="119.05" y="341.9" xml:space="preserve">strength g/</text>
<text class="gk" transform="translate(207.90 341.9) scale(1.06 1.1)">ω</text>
<text x="221.87" y="341.9" xml:space="preserve"> of interaction  (</text>
<text class="gk" transform="translate(356.37 341.9) scale(1.08 1.06)">ε</text>
<text x="365.22" y="341.9">=0.50)</text>
<g transform="translate(23.8 221.1) rotate(-90)">
<text x="0" y="0" xml:space="preserve">energy  (h</text>
<text class="gk" transform="translate(84.44 -0.3) scale(1.14 1.05)">ω</text>
<text x="98.73" y="0">/2</text>
<text class="gk" transform="translate(114.84 -0.8) scale(1.04 1.0)">π</text>
<text x="126.38" y="0">)</text>
</g>
</g>
</svg>
</body></html>
